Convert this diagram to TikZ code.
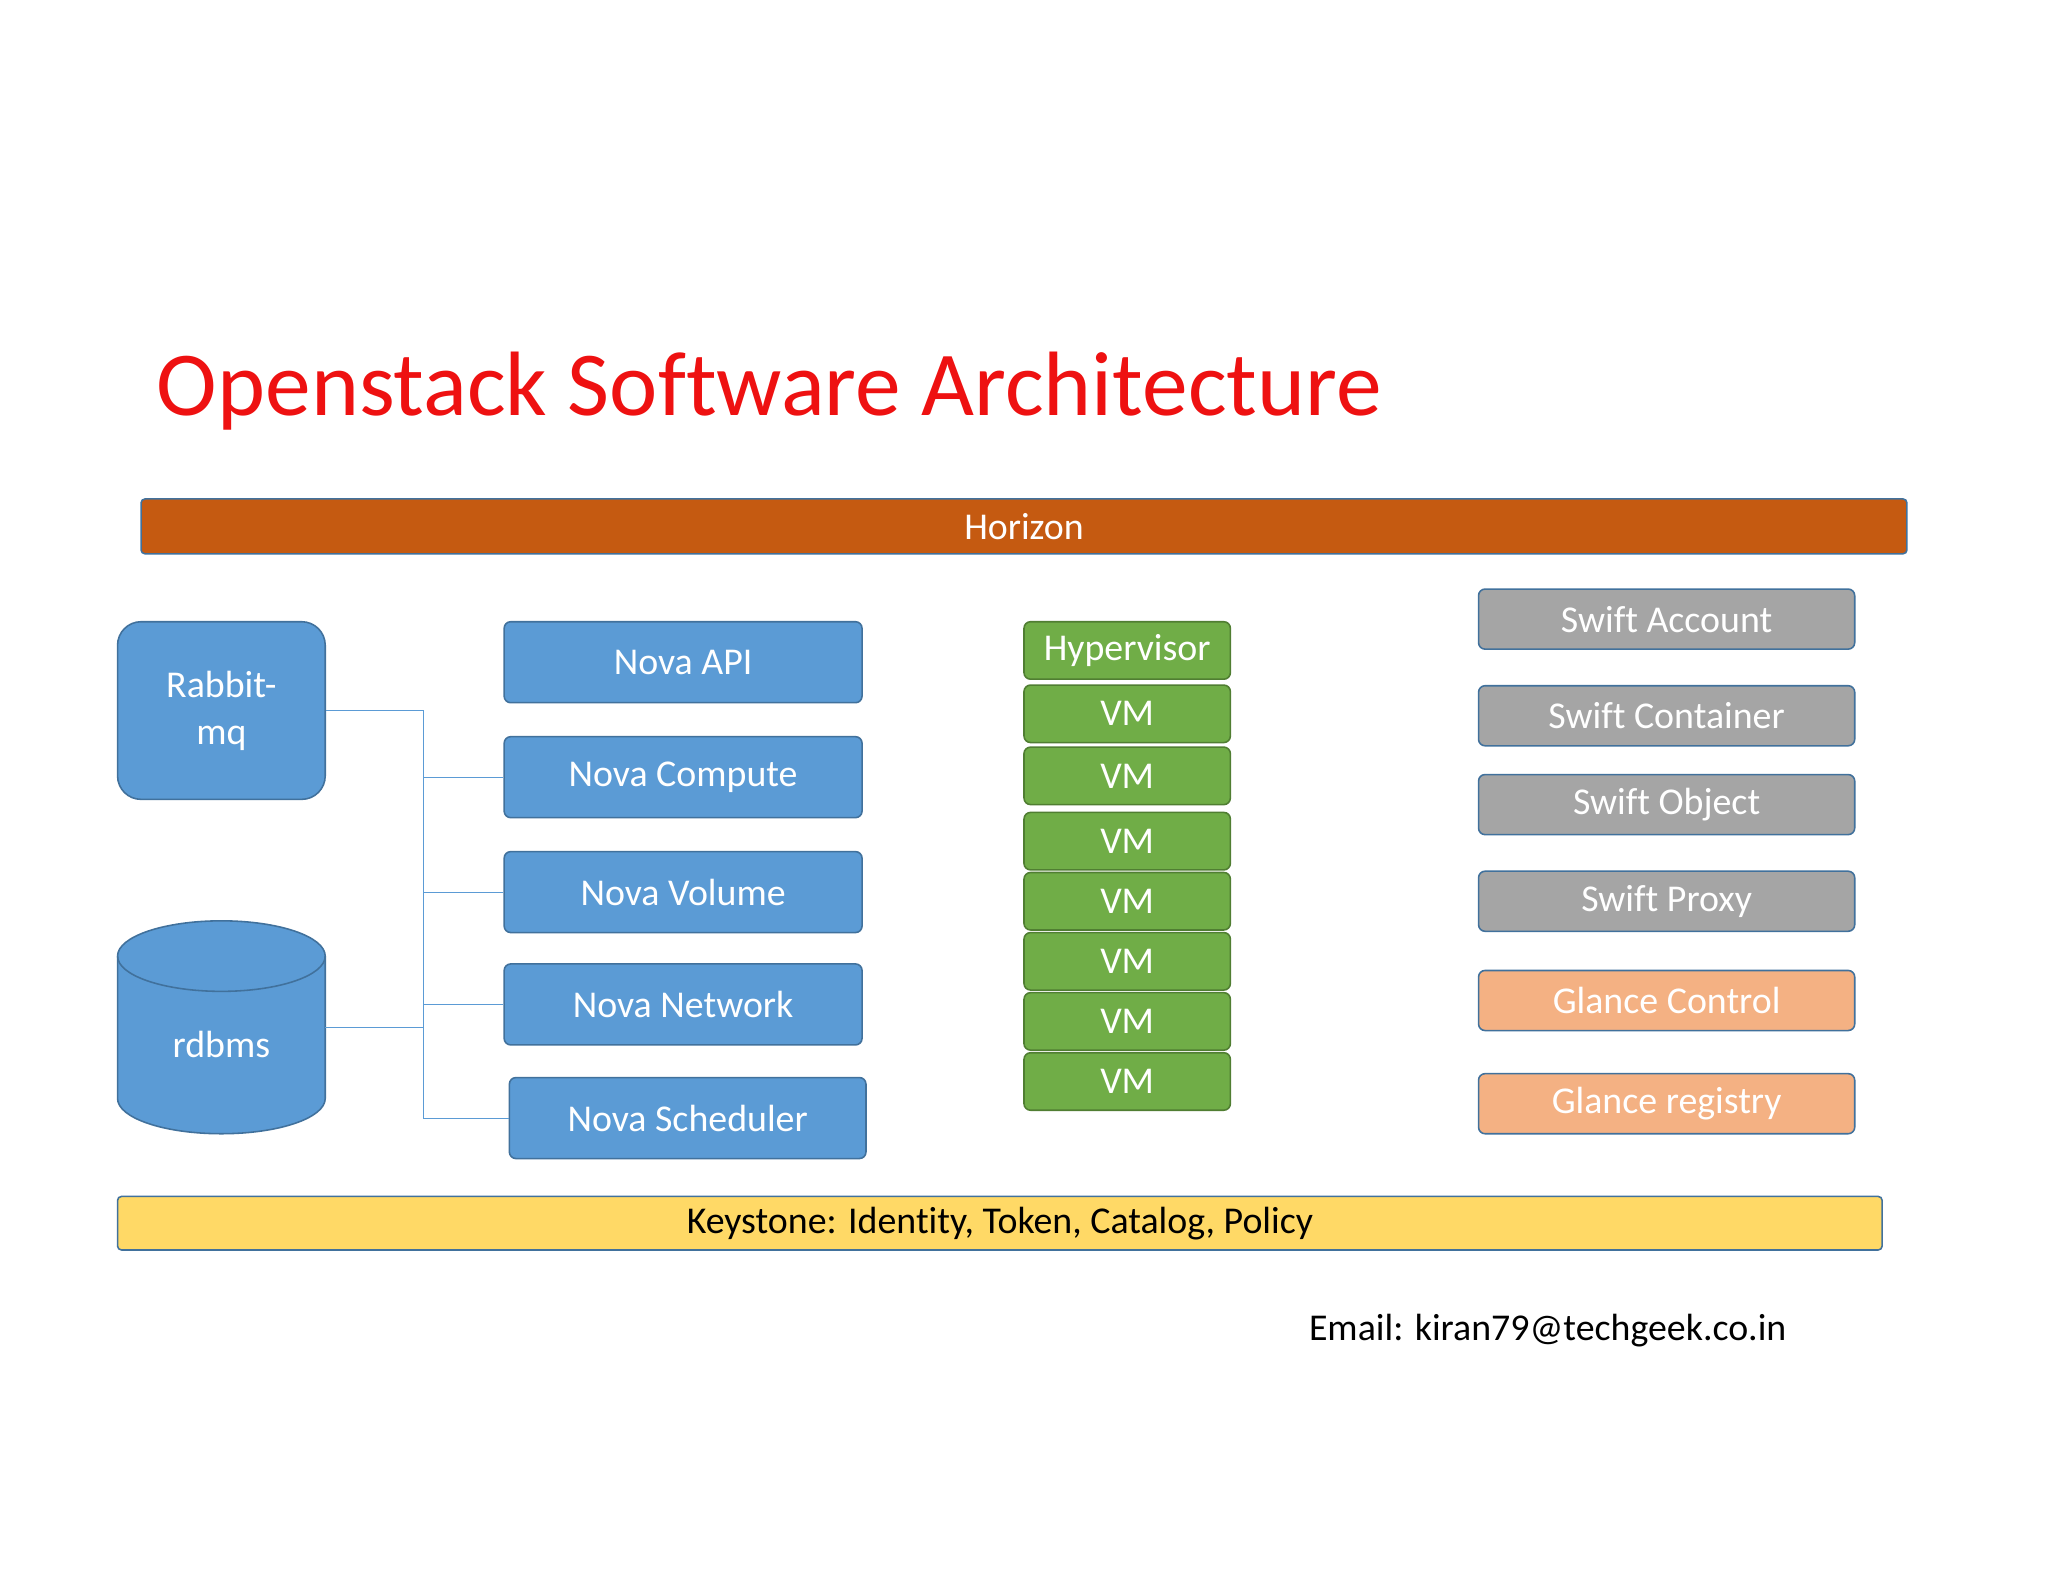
\documentclass[tikz,border=0pt]{standalone}
\usepackage{fontspec}
\setmainfont{Carlito}[Ligatures=NoCommon]
\definecolor{bblue}{HTML}{5B9BD5}
\definecolor{bline}{HTML}{41719C}
\definecolor{ggreen}{HTML}{70AD47}
\definecolor{gline}{HTML}{507E32}
\definecolor{ggray}{HTML}{A5A5A5}
\definecolor{horz}{HTML}{C55A11}
\definecolor{peach}{HTML}{F4B183}
\definecolor{yel}{HTML}{FFD966}
\definecolor{ttl}{HTML}{EE1111}
\begin{document}
\begin{tikzpicture}[x=1pt,y=-1pt,
 box/.style={draw=bline,line width=1.2pt,rounded corners=5pt,text=white,font=\fontsize{29}{33}\selectfont,inner sep=0pt},
 nova/.style={box,fill=bblue},
 vm/.style={box,fill=ggreen,draw=gline},
 sw/.style={box,fill=ggray},
 gl/.style={box,fill=peach},
 conn/.style={draw=bblue,line width=0.8pt}]
\useasboundingbox[fill=white] (0,0) rectangle (1568,1211);
\node[anchor=base west,text=ttl,font=\fontsize{70}{80}\selectfont,inner sep=0pt] (title) at (120,318) {Openstack Software Architecture};
\node[box,fill=horz,minimum width=1352pt,minimum height=42pt,rounded corners=3pt] (hz) at (784,403) {Horizon};
\node[nova,minimum width=159pt,minimum height=136pt,rounded corners=18pt,align=center] (rmq) at (169.5,544) {Rabbit-\\[3pt]mq};
% cylinder
\filldraw[fill=bblue,draw=bline,line width=1.2pt] (90,732) -- (90,841) arc[start angle=180,end angle=360,x radius=79.5pt,y radius=27pt] -- (249,732) arc[start angle=0,end angle=180,x radius=79.5pt,y radius=27pt] -- cycle;
\draw[bline,line width=1.2pt] (90,732) arc[start angle=180,end angle=360,x radius=79.5pt,y radius=27pt];
\node[text=white,font=\fontsize{29}{33}\selectfont,minimum width=159pt,minimum height=136pt,inner sep=0pt] (db) at (169.5,800) {rdbms};
\node[nova,minimum width=274pt,minimum height=62pt] (api) at (523,507) {Nova API};
\node[nova,minimum width=274pt,minimum height=62pt] (cmp) at (523,595) {Nova Compute};
\node[nova,minimum width=274pt,minimum height=62pt] (vol) at (523,683) {Nova Volume};
\node[nova,minimum width=274pt,minimum height=62pt] (net) at (523,769) {Nova Network};
\node[nova,minimum width=273pt,minimum height=62pt] (sch) at (526.5,856) {Nova Scheduler};
\coordinate (bus) at (324,0);
\draw[conn] (rmq.east|-0,544) -- (bus|-0,544) -- (bus|-0,856) -- (sch.west|-0,856);
\draw[conn] (249,787) -- (bus|-0,787);
\draw[conn] (bus|-cmp) -- (cmp.west);
\draw[conn] (bus|-vol) -- (vol.west);
\draw[conn] (bus|-net) -- (net.west);
\node[vm,minimum width=158pt,minimum height=44pt] (hyp) at (863,498) {Hypervisor};
\foreach \n/\y in {1/546.5,2/594,3/644,4/690,5/736,6/782,7/828}
  \node[vm,minimum width=158pt,minimum height=44pt] (vm\n) at (863,\y) {VM};
\node[sw,minimum width=288pt,minimum height=46pt] (sa) at (1276,474) {Swift Account};
\node[sw,minimum width=288pt,minimum height=46pt] (sc) at (1276,548) {Swift Container};
\node[sw,minimum width=288pt,minimum height=46pt] (so) at (1276,616) {Swift Object};
\node[sw,minimum width=288pt,minimum height=46pt] (sp) at (1276,690) {Swift Proxy};
\node[gl,minimum width=288pt,minimum height=46pt] (gc) at (1276,766) {Glance Control};
\node[gl,minimum width=288pt,minimum height=46pt] (gr) at (1276,845) {Glance registry};
\node[box,fill=yel,text=black,minimum width=1351pt,minimum height=41pt,rounded corners=3pt] (ks) at (765.5,936.5) {Keystone: Identity, Token, Catalog, Policy};
\node[anchor=base west,inner sep=0pt,font=\fontsize{29}{33}\selectfont] (em) at (1002,1026) {Email: kiran79@techgeek.co.in};
\end{tikzpicture}
\end{document}
